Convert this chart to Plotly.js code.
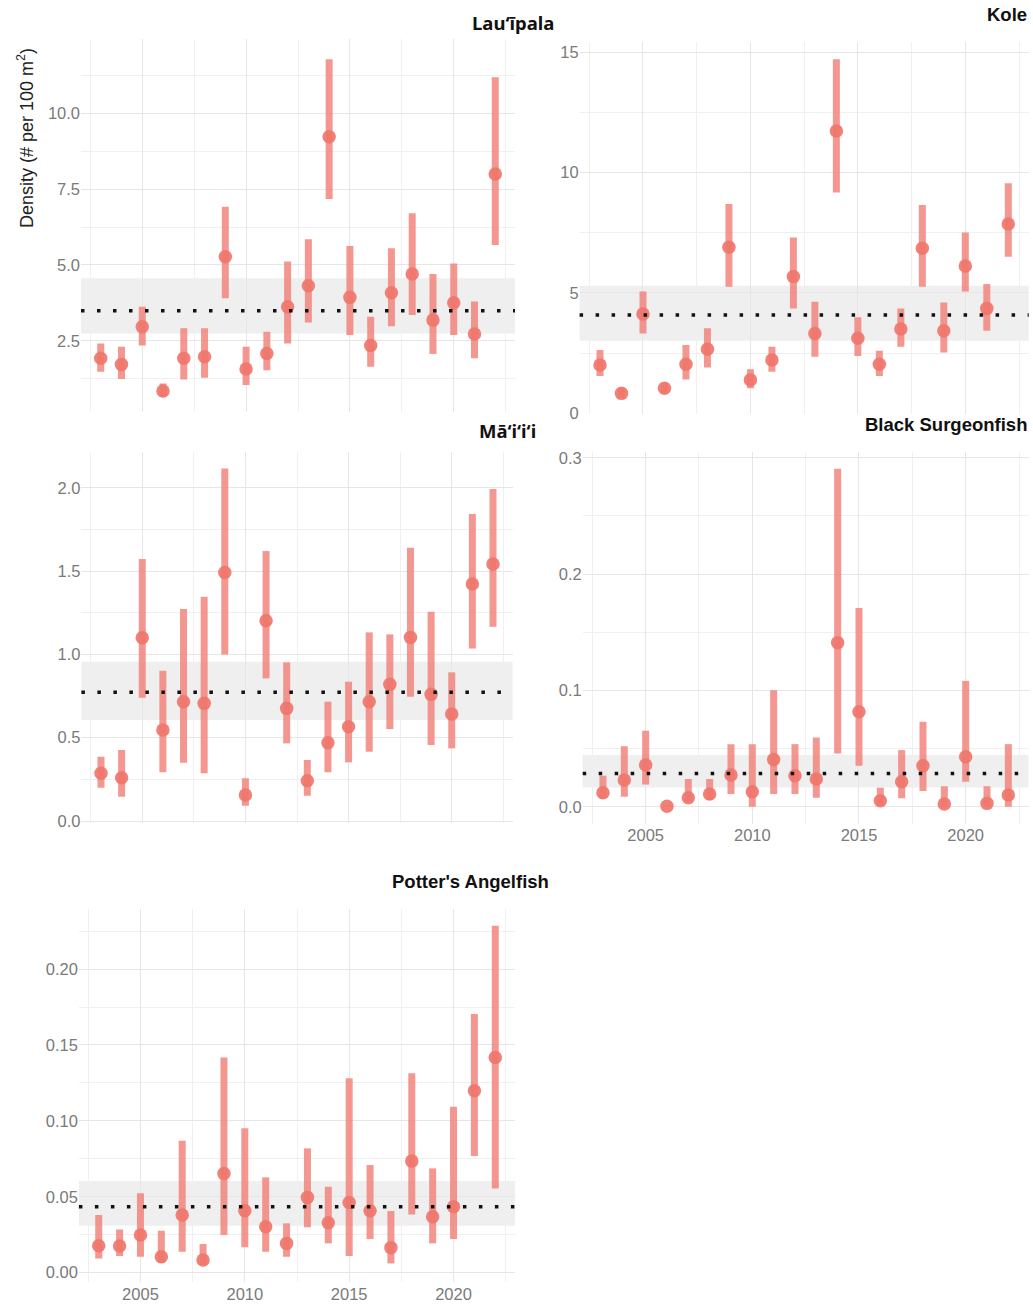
<!DOCTYPE html>
<html>
<head>
<meta charset="utf-8">
<script src="https://cdn.plot.ly/plotly-3.0.1.min.js"></script>
<style>html,body{margin:0;padding:0;background:#fff;}#chart{width:1033px;height:1304px;}</style>
</head>
<body>
<div id="chart"></div>
<script>
// ---------- DATA ----------
const years = [2003,2004,2005,2006,2007,2008,2009,2010,2011,2012,2013,2014,2015,2016,2017,2018,2019,2020,2021,2022];

const lauipalaMean = [1.92,1.72,2.96,0.84,1.92,1.97,5.27,1.57,2.08,3.62,4.31,9.23,3.93,2.34,4.08,4.70,3.18,3.75,2.72,8.00];
const lauipalaLo   = [1.48,1.24,2.34,0.65,1.22,1.28,3.90,1.04,1.53,2.41,3.10,7.17,2.69,1.64,2.98,3.35,2.06,2.69,1.92,5.66];
const lauipalaHi   = [2.41,2.30,3.62,1.09,2.91,2.91,6.92,2.30,2.80,5.11,5.85,11.78,5.62,3.29,5.55,6.70,4.70,5.05,3.79,11.19];
const lauipalaRef  = [3.49, 2.74, 4.56]; // mean, band low, band high

const koleMean = [2.01,0.83,4.13,1.04,2.04,2.66,6.90,1.39,2.22,5.68,3.32,11.73,3.12,2.04,3.50,6.86,3.43,6.12,4.36,7.87];
const koleLo   = [1.55,0.66,3.32,0.83,1.41,1.90,5.26,1.04,1.73,4.36,2.35,9.17,2.38,1.55,2.77,5.26,2.53,5.06,3.43,6.51];
const koleHi   = [2.63,1.04,5.06,1.25,2.84,3.53,8.70,1.83,2.77,7.30,4.64,14.71,3.99,2.60,4.36,8.66,4.60,7.51,5.37,9.56];
const koleRef  = [4.09, 3.02, 5.30];

const maiiiMean = [0.286,0.260,1.100,0.546,0.716,0.706,1.492,0.156,1.202,0.676,0.242,0.470,0.566,0.716,0.820,1.102,0.760,0.642,1.422,1.542];
const maiiiLo   = [0.200,0.146,0.740,0.292,0.350,0.286,1.000,0.092,0.856,0.466,0.152,0.292,0.352,0.416,0.552,0.746,0.456,0.436,1.036,1.166];
const maiiiHi   = [0.386,0.426,1.572,0.902,1.272,1.346,2.116,0.256,1.620,0.952,0.366,0.716,0.836,1.132,1.120,1.640,1.256,0.892,1.842,1.992];
const maiiiRef  = [0.772, 0.606, 0.956];

const blackMean = [0.0120,0.0229,0.0358,0.0005,0.0077,0.0109,0.0272,0.0129,0.0407,0.0266,0.0238,0.1411,0.0816,0.0052,0.0215,0.0352,0.0023,0.0429,0.0029,0.0100];
const blackLo   = [0.0072,0.0086,0.0192,0.0000,0.0037,0.0057,0.0109,0.0000,0.0109,0.0109,0.0077,0.0458,0.0352,0.0014,0.0072,0.0135,0.0000,0.0215,0.0000,0.0000];
const blackHi   = [0.0266,0.0520,0.0653,0.0010,0.0238,0.0238,0.0538,0.0538,0.1002,0.0538,0.0595,0.2906,0.1709,0.0163,0.0487,0.0730,0.0177,0.1082,0.0177,0.0538];
const blackRef  = [0.0286, 0.0166, 0.0444];

const potterMean = [0.0178,0.0176,0.0248,0.0105,0.0380,0.0083,0.0654,0.0408,0.0303,0.0193,0.0496,0.0329,0.0463,0.0408,0.0165,0.0735,0.0369,0.0435,0.1199,0.1418];
const potterLo   = [0.0094,0.0110,0.0105,0.0066,0.0138,0.0050,0.0248,0.0167,0.0138,0.0105,0.0299,0.0193,0.0110,0.0222,0.0061,0.0384,0.0193,0.0222,0.0768,0.0555];
const potterHi   = [0.0380,0.0285,0.0523,0.0277,0.0869,0.0189,0.1418,0.0951,0.0628,0.0325,0.0819,0.0566,0.1280,0.0709,0.0406,0.1313,0.0687,0.1093,0.1704,0.2285];
const potterRef  = [0.0435, 0.0310, 0.0604];

const panelTitles = ["Lau\u2018\u012Bpala", "Kole", "M\u0101\u2018i\u2018i\u2018i", "Black Surgeonfish", "Potter's Angelfish"];
const yAxisTitle = "Density (# per 100 m<sup>2</sup>)";

const xTickVals = [2005, 2010, 2015, 2020];
const xTickText = ["2005", "2010", "2015", "2020"];
const xMinorVals = [2002.5, 2007.5, 2012.5, 2017.5, 2022.5];

const yTicks = [
  {vals:[2.5,5,7.5,10], text:["2.5","5.0","7.5","10.0"], minor:[1.25,3.75,6.25,8.75,11.25]},
  {vals:[0,5,10,15], text:["0","5","10","15"], minor:[2.5,7.5,12.5]},
  {vals:[0,0.5,1,1.5,2], text:["0.0","0.5","1.0","1.5","2.0"], minor:[0.25,0.75,1.25,1.75]},
  {vals:[0,0.1,0.2,0.3], text:["0.0","0.1","0.2","0.3"], minor:[0.05,0.15,0.25]},
  {vals:[0,0.05,0.1,0.15,0.2], text:["0.00","0.05","0.10","0.15","0.20"], minor:[0.025,0.075,0.125,0.175,0.225]}
];

// ---------- LAYOUT GEOMETRY (pixels) ----------
const W = 1033, H = 1304;
const panels = [
  {mean:lauipalaMean, lo:lauipalaLo, hi:lauipalaHi, ref:lauipalaRef, px:[81,515], py:[38.7,412.3], yr:[0.14,12.46], xlab:false},
  {mean:koleMean, lo:koleLo, hi:koleHi, ref:koleRef, px:[579.6,1028.7], py:[42.4,414.3], yr:[-0.04,15.41], xlab:false},
  {mean:maiiiMean, lo:maiiiLo, hi:maiiiHi, ref:maiiiRef, px:[81.4,512.6], py:[451.6,822.5], yr:[-0.009,2.217], xlab:false},
  {mean:blackMean, lo:blackLo, hi:blackHi, ref:blackRef, px:[582.7,1028.6], py:[452,823.6], yr:[-0.0145,0.305], xlab:true},
  {mean:potterMean, lo:potterLo, hi:potterHi, ref:potterRef, px:[78.9,515.1], py:[908.8,1282.1], yr:[-0.0062,0.2397], xlab:true}
];

const titlePos = [
  {x:556, y:22, font:"'Noto Sans', 'Open Sans', sans-serif", size:18.5},
  {x:1029, y:15, font:"'Liberation Sans', Arial, sans-serif", size:18.5},
  {x:538, y:431, font:"'Noto Sans', 'Open Sans', sans-serif", size:18.5},
  {x:1029, y:424, font:"'Liberation Sans', Arial, sans-serif", size:18.5},
  {x:551, y:881, font:"'Liberation Sans', Arial, sans-serif", size:18.5}
];

const tickFont = {family:"'Liberation Sans', Arial, sans-serif", size:16.5, color:"#7a7a7a"};
const gridMajor = "#e6e6e6", gridMinor = "#f0f0f0";
const barColor = "rgba(240,128,120,0.82)";
const dotColor = "rgba(240,118,108,0.92)";

const data = [];
const layout = {
  width: W, height: H,
  margin: {l:0, r:0, t:0, b:0},
  paper_bgcolor: "#ffffff", plot_bgcolor: "rgba(0,0,0,0)",
  showlegend: false,
  shapes: [], annotations: []
};

panels.forEach((p, i) => {
  const n = i === 0 ? "" : String(i + 1);
  data.push({
    type: "scatter", mode: "markers",
    x: years, y: p.mean,
    xaxis: "x" + n, yaxis: "y" + n,
    marker: {size: 13.5, color: dotColor, line: {width: 0}},
    error_y: {
      type: "data", symmetric: false,
      array: p.hi.map((h, k) => h - p.mean[k]),
      arrayminus: p.mean.map((m, k) => m - p.lo[k]),
      thickness: 7, width: 0, color: barColor
    },
    hoverinfo: "skip", cliponaxis: false
  });

  layout["xaxis" + n] = {
    domain: [p.px[0] / W, p.px[1] / W],
    range: [2002.05, 2022.95],
    anchor: "y" + n,
    tickmode: "array", tickvals: xTickVals, ticktext: xTickText,
    showticklabels: p.xlab, ticks: "", tickfont: tickFont,
    showgrid: true, gridcolor: gridMajor, gridwidth: 1,
    minor: {tickmode: "array", tickvals: xMinorVals, showgrid: true, gridcolor: gridMinor, gridwidth: 1, ticks: ""},
    zeroline: false, showline: false, fixedrange: true
  };
  const yt = yTicks[i];
  layout["yaxis" + n] = {
    domain: [1 - p.py[1] / H, 1 - p.py[0] / H],
    range: p.yr,
    anchor: "x" + n,
    tickmode: "array", tickvals: yt.vals, ticktext: yt.text,
    ticks: "", tickfont: tickFont,
    showgrid: true, gridcolor: gridMajor, gridwidth: 1,
    minor: {tickmode: "array", tickvals: yt.minor, showgrid: true, gridcolor: gridMinor, gridwidth: 1, ticks: ""},
    zeroline: false, showline: false, fixedrange: true
  };

  // reference band
  layout.shapes.push({
    type: "rect", xref: "x" + n + " domain", yref: "y" + n,
    x0: 0, x1: 1, y0: p.ref[1], y1: p.ref[2],
    fillcolor: "rgba(225,225,225,0.55)", line: {width: 0}, layer: "below"
  });
  // mean dotted line
  layout.shapes.push({
    type: "line", xref: "x" + n + " domain", yref: "y" + n,
    x0: 0, x1: 1, y0: p.ref[0], y1: p.ref[0],
    line: {color: "#111111", width: 3.5, dash: "3.5px,12.5px"}, layer: "above"
  });

  const tp = titlePos[i];
  layout.annotations.push({
    text: "<b>" + panelTitles[i] + "</b>",
    xref: "paper", yref: "paper",
    x: tp.x / W, y: 1 - tp.y / H,
    xanchor: "right", yanchor: "middle", showarrow: false,
    font: {family: tp.font, size: tp.size, color: "#111111"}
  });
});

layout.annotations.push({
  text: yAxisTitle,
  xref: "paper", yref: "paper",
  x: 26 / W, y: 1 - 138 / H,
  xanchor: "center", yanchor: "middle", showarrow: false, textangle: -90,
  font: {family: "'Liberation Sans', Arial, sans-serif", size: 18, color: "#222222"}
});

Plotly.newPlot("chart", data, layout, {staticPlot: true, displayModeBar: false});
</script>
</body>
</html>
